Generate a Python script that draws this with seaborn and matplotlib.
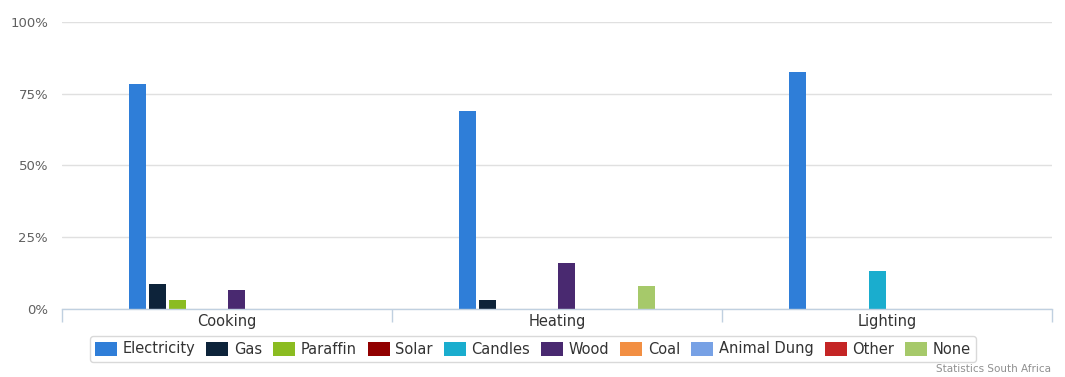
import matplotlib
matplotlib.use("Agg")
import matplotlib.pyplot as plt
import matplotlib.patches as mpatches
import seaborn as sns
import pandas as pd

# Share of households by main energy source (%)
categories = ["Cooking", "Heating", "Lighting"]
sources = ["Electricity", "Gas", "Paraffin", "Solar", "Candles",
           "Wood", "Coal", "Animal Dung", "Other", "None"]

electricity = [78.5, 69.0, 82.7]
gas = [8.4, 3.0, 0.0]
paraffin = [3.0, 0.0, 0.0]
solar = [0.0, 0.0, 0.0]
candles = [0.0, 0.0, 13.2]
wood = [6.4, 15.9, 0.0]
coal = [0.0, 0.0, 0.0]
animal_dung = [0.0, 0.0, 0.0]
other = [0.0, 0.0, 0.0]
none = [0.0, 7.9, 0.0]

colors = ["#2f7ed8", "#0d233a", "#8bbc21", "#910000", "#1aadce",
          "#492970", "#f28f43", "#77a1e5", "#c42525", "#a6c96a"]

series = [electricity, gas, paraffin, solar, candles,
          wood, coal, animal_dung, other, none]

rows = []
for src, vals in zip(sources, series):
    for cat, v in zip(categories, vals):
        rows.append({"use": cat, "source": src, "share": v})
df = pd.DataFrame(rows)

sns.set_theme(style="white")
plt.rcParams["font.family"] = ["DejaVu Sans"]

fig = plt.figure(figsize=(10.65, 3.77), dpi=100)
ax = fig.add_axes([62 / 1065, 1 - 308.5 / 377, 990 / 1065, 286.5 / 377])

sns.barplot(data=df, x="use", y="share", hue="source", order=categories,
            hue_order=sources, palette=colors, width=0.6, gap=0.14,
            saturation=1, linewidth=0, ax=ax, legend=False)

ax.set_xlim(-0.5, 2.5)
ax.set_ylim(0, 100)
ax.set_yticks([0, 25, 50, 75, 100])
ax.set_yticklabels(["0%", "25%", "50%", "75%", "100%"], color="#606060", fontsize=9.5)
ax.yaxis.grid(True, color="#e0e0e0", linewidth=1)
ax.set_axisbelow(True)
ax.set_xlabel("")
ax.set_ylabel("")
ax.tick_params(axis="y", length=0, pad=10)

# category labels centred, tick marks on category boundaries
ax.set_xticks([0, 1, 2])
ax.set_xticklabels(categories, fontsize=10.5, color="#333333")
ax.tick_params(axis="x", which="major", length=0, pad=4)
ax.set_xticks([-0.5, 0.5, 1.5, 2.5], minor=True)
ax.tick_params(axis="x", which="minor", bottom=True, length=9, width=1,
               color="#c0d0e0", direction="out")

for side in ["top", "right", "left"]:
    ax.spines[side].set_visible(False)
ax.spines["bottom"].set_color("#c0d0e0")
ax.spines["bottom"].set_linewidth(1)

handles = [mpatches.Patch(facecolor=c, edgecolor="none", label=s)
           for s, c in zip(sources, colors)]
leg = fig.legend(handles=handles, loc="center", bbox_to_anchor=(533 / 1065, 1 - 349 / 377),
                 ncol=10, fontsize=10.5, frameon=True, fancybox=True,
                 handlelength=1.5, handleheight=1.1, handletextpad=0.4,
                 columnspacing=0.75, borderpad=0.35, labelcolor="#333333")
leg.get_frame().set_edgecolor("#d0d0d0")
leg.get_frame().set_linewidth(1)

fig.text(1051 / 1065, 1 - 369 / 377, "Statistics South Africa", ha="right", va="center",
         fontsize=7.5, color="#909090")

fig.savefig("out.png", dpi=100)
